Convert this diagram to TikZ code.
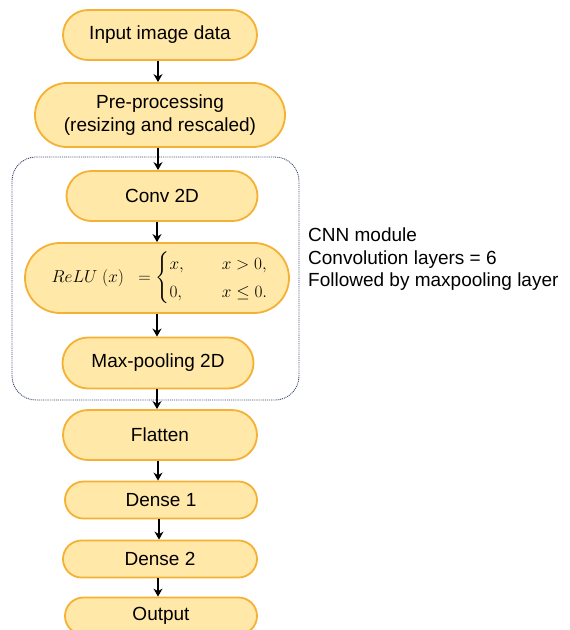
\documentclass[tikz,border=0pt]{standalone}
\usepackage{amsmath}
\usepackage{fontspec}
\setmainfont{Liberation Sans}
\usetikzlibrary{arrows.meta,shapes.misc}

\definecolor{layerfill}{HTML}{FFE8A8}
\definecolor{layerline}{HTML}{F4B133}
\definecolor{moduleline}{HTML}{3F4E6E}

\begin{document}
\begin{tikzpicture}[>=Stealth, x=1pt, y=-1pt,
    layer/.style={rounded rectangle, draw=layerline, fill=layerfill, line width=1.8pt,
        minimum width=194pt, minimum height=50pt, inner sep=0pt, align=center,
        font=\fontsize{19}{22.5}\selectfont},
    flow/.style={->, line width=2.2pt, >={Stealth[length=8pt,width=9pt]}},
    module/.style={draw=moduleline, line width=0.9pt, dash pattern=on 1pt off 0.9pt, rounded corners=24pt}]

    % Fix the page size
    \useasboundingbox (0,0) rectangle (570,630);

    % Dotted frame round the CNN module
    \draw [module] (12,157) rectangle (299,400);

    % The layers, top to bottom
    \node [layer] (input) at (160,35) {Input image data};
    \node [layer, minimum width=250pt, minimum height=64pt] (prep) at (160,115)
        {Pre-processing\\(resizing and rescaled)};
    \node [layer, minimum width=191pt] (conv) at (162,196) {Conv 2D};
    % activation: plain rectangle with round ends so the formula may run into them
    \node [layer, shape=rectangle, rounded corners=35pt, minimum width=264pt,
        minimum height=70pt, font=\fontsize{19}{23}\selectfont] (relu) at (157,278)
        {\hspace*{6pt}$ReLU\;(x)\;\;=\begin{cases} x, & \quad x>0,\\ 0, & \quad x\le 0.\end{cases}$};
    \node [layer, minimum width=191pt, minimum height=51pt] (pool) at (158,363) {Max-pooling 2D};
    \node [layer] (flat) at (160,435) {Flatten};
    \node [layer, minimum width=192pt, minimum height=37pt] (dense1) at (161,500) {Dense 1};
    \node [layer, minimum height=37pt] (dense2) at (160,559) {Dense 2};
    \node [layer, minimum width=192pt, minimum height=37pt] (output) at (161,616) {Output};

    % Module note on the right
    \node [anchor=north west, align=left, inner sep=0pt,
        font=\fontsize{19}{22.5}\selectfont] (note) at (308,228)
        {CNN module\\Convolution layers = 6\\Followed by maxpooling layer};

    % Arrows between the layers
    \draw [flow] (input.south -| 158,0) -- (prep.north -| 158,0);
    \draw [flow] (prep.south -| 158,0) -- (conv.north -| 158,0);
    \draw [flow] (conv.south -| 157,0) -- (relu.north -| 157,0);
    \draw [flow] (relu.south -| 157,0) -- (pool.north -| 157,0);
    \draw [flow] (pool.south -| 157,0) -- (flat.north -| 157,0);
    \draw [flow] (flat.south -| 158,0) -- (dense1.north -| 158,0);
    \draw [flow] (dense1.south -| 159,0) -- (dense2.north -| 159,0);
    \draw [flow] (dense2.south -| 158,0) -- (output.north -| 158,0);

\end{tikzpicture}
\end{document}
